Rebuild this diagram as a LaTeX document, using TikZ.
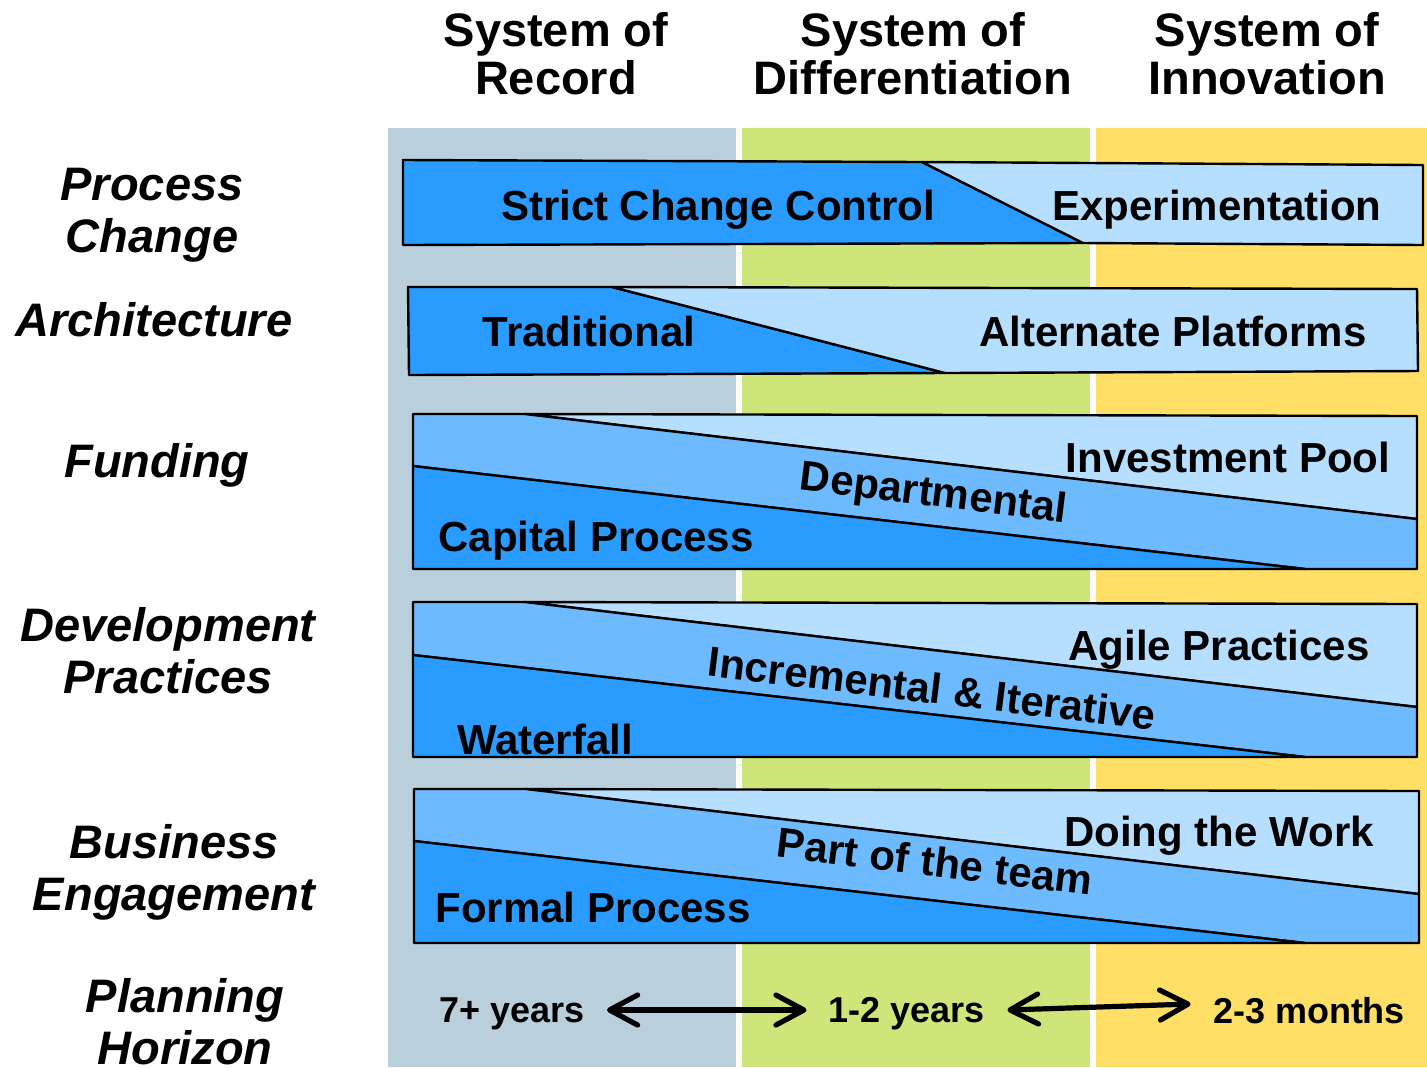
\documentclass[tikz,border=0pt]{standalone}
\usepackage{fontspec}
\setmainfont{Liberation Sans}
\usetikzlibrary{arrows.meta}

\definecolor{recordbg}{HTML}{B9CFDC}
\definecolor{diffbg}{HTML}{CEE57A}
\definecolor{innovbg}{HTML}{FFDF66}
\definecolor{darkband}{HTML}{2A9BFF}
\definecolor{midband}{HTML}{6EBAFF}
\definecolor{lightband}{HTML}{B5DEFF}

\begin{document}
\begin{tikzpicture}[x=0.5pt,y=-0.5pt]
\tikzstyle{every node}+=[inner sep=0pt]
\tikzstyle{header}=[align=center,font=\fontsize{23.5}{24}\selectfont\bfseries]
\tikzstyle{rowlabel}=[align=center,font=\fontsize{23.5}{26}\selectfont\bfseries\itshape]
\tikzstyle{bandtext}=[text depth=0pt,font=\fontsize{21}{24}\selectfont\bfseries]
\tikzstyle{horizon}=[text depth=0pt,inner xsep=11pt,font=\fontsize{18}{20}\selectfont\bfseries]
\tikzstyle{band}=[draw=black,line width=1.2pt,line join=round]
\tikzstyle{span}=[line width=2.6pt,line cap=round,{Straight Barb[length=14pt,width=15pt,line cap=round,line join=round]}-{Straight Barb[length=14pt,width=15pt,line cap=round,line join=round]}]
\useasboundingbox (0,0) rectangle (1427,1067);
% columns
\fill [recordbg] (388,128) rectangle (736,1067);
\fill [diffbg] (742,128) rectangle (1090,1067);
\fill [innovbg] (1096,128) rectangle (1427,1067);
\node [header] (hRecord) at (556,54) {System of\\Record};
\node [header] (hDiff) at (913,54) {System of\\Differentiation};
\node [header] (hInnov) at (1267,54) {System of\\Innovation};
% row labels
\node [rowlabel] (lProcess) at (152,215) {Process\\Change};
\node [rowlabel] (lArch) at (154,320) {Architecture};
\node [rowlabel] (lFund) at (157,465) {Funding};
\node [rowlabel] (lDev) at (168,651) {Development\\Practices};
\node [rowlabel] (lBus) at (174,872) {Business\\Engagement};
\node [rowlabel] (lPlan) at (185,1022) {Planning\\Horizon};
% process change
\filldraw [band,fill=darkband] (403,160) -- (922,162) -- (1083,243) -- (403,245) -- cycle;
\filldraw [band,fill=lightband] (922,162) -- (1423,165) -- (1423,245) -- (1083,243) -- cycle;
\node [bandtext] (tStrict) at (718,205) {Strict Change Control};
\node [bandtext] (tExper) at (1217,205) {Experimentation};
% architecture
\filldraw [band,fill=darkband] (408,287) -- (612,287) -- (945,373) -- (409,375) -- cycle;
\filldraw [band,fill=lightband] (612,287) -- (1417,289) -- (1418,371) -- (945,373) -- cycle;
\node [bandtext] (tTrad) at (589,331) {Traditional};
\node [bandtext] (tAlt) at (1173,331) {Alternate Platforms};
% funding
\filldraw [band,fill=lightband] (525,414) -- (1417,416) -- (1417,519) -- cycle;
\filldraw [band,fill=midband] (413,414) -- (525,414) -- (1417,519) -- (1417,569) -- (1305,569) -- (413,466) -- cycle;
\filldraw [band,fill=darkband] (413,466) -- (1305,569) -- (413,569) -- cycle;
\node [bandtext] (tInvest) at (1228,457) {Investment Pool};
\node [bandtext,rotate=-7] (tDept) at (934,491) {Departmental};
\node [bandtext] (tCapital) at (596,536) {Capital Process};
% development practices
\filldraw [band,fill=lightband] (525,602) -- (1417,604) -- (1417,707) -- cycle;
\filldraw [band,fill=midband] (413,602) -- (525,602) -- (1417,707) -- (1417,757) -- (1305,757) -- (413,655) -- cycle;
\filldraw [band,fill=darkband] (413,655) -- (1305,757) -- (413,757) -- cycle;
\node [bandtext] (tAgile) at (1219,645) {Agile Practices};
\node [bandtext,rotate=-7] (tIncr) at (932,688) {Incremental \& Iterative};
\node [bandtext] (tWater) at (545,739) {Waterfall};
% business engagement
\filldraw [band,fill=lightband] (526,789) -- (1419,791) -- (1419,894) -- cycle;
\filldraw [band,fill=midband] (414,789) -- (526,789) -- (1419,894) -- (1419,943) -- (1305,943) -- (414,841) -- cycle;
\filldraw [band,fill=darkband] (414,841) -- (1305,943) -- (414,943) -- cycle;
\node [bandtext] (tDoing) at (1219,831) {Doing the Work};
\node [bandtext,rotate=-7] (tPart) at (935,861) {Part of the team};
\node [bandtext] (tFormal) at (593,907) {Formal Process};
% planning horizon
\node [horizon] (y7) at (512,1010) {7+ years};
\node [horizon] (y12) at (907,1010) {1-2 years};
\node [horizon] (m23) at (1309,1010) {2-3 months};
\draw [span] (y7) -- (y12);
\draw [span] (y12.east) -- ([yshift=3pt]m23.west);
\end{tikzpicture}
\end{document}
